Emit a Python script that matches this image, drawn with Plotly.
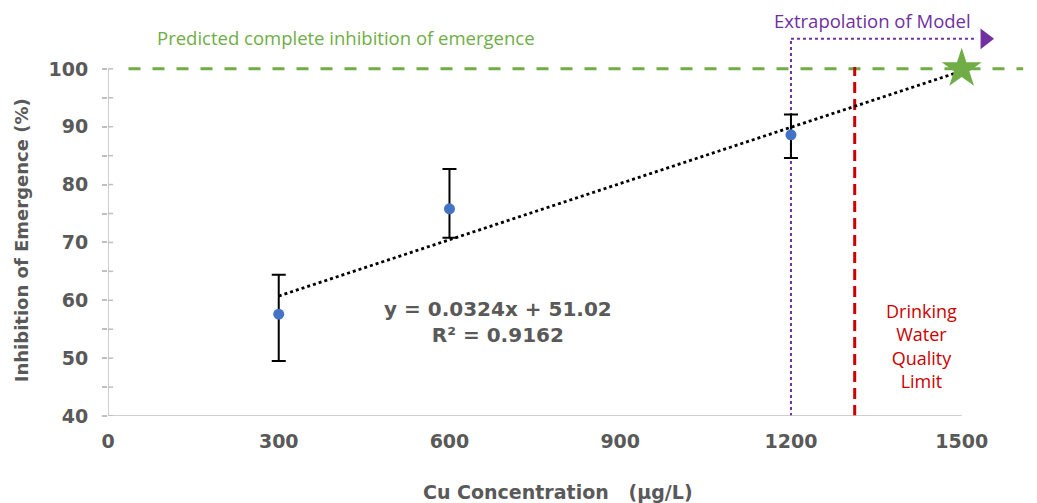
import plotly.graph_objects as go

# ---- data ----
cu_conc = [300, 600, 1200]
inhibition = [57.6, 75.8, 88.6]
err_plus = [6.8, 6.9, 3.5]
err_minus = [8.1, 5.0, 4.0]

slope = 0.0324
intercept = 51.02
trend_x = [300, 1500]
trend_y = [slope * v + intercept for v in trend_x]

complete_inhibition = 100
predicted_x = 1500
dwq_limit = 1312
extrap_start = 1200
extrap_level = 105.2
extrap_end = 1527

x_ticks = [0, 300, 600, 900, 1200, 1500]
y_ticks = [40, 50, 60, 70, 80, 90, 100]
y_minor = [45, 55, 65, 75, 85, 95]

GRAY = "#595959"
AX = "#BFBFBF"
GREEN = "#70AD47"
RED = "#CC0000"
PURPLE = "#7030A0"
BLUE = "#4472C4"

fig = go.Figure()

# trendline
fig.add_trace(go.Scatter(x=trend_x, y=trend_y, mode="lines",
                         line=dict(color="black", width=2.8, dash="dot"),
                         hoverinfo="skip", showlegend=False))
# data points
fig.add_trace(go.Scatter(x=cu_conc, y=inhibition, mode="markers",
                         marker=dict(color=BLUE, size=11),
                         error_y=dict(type="data", array=err_plus, arrayminus=err_minus,
                                      color="black", thickness=2, width=7),
                         showlegend=False))
# predicted complete inhibition star
fig.add_trace(go.Scatter(x=[predicted_x], y=[complete_inhibition], mode="markers",
                         marker=dict(symbol="star", color=GREEN, size=30, line=dict(width=0)),
                         showlegend=False))
# extrapolation arrow head
fig.add_trace(go.Scatter(x=[extrap_end + 14], y=[extrap_level], mode="markers",
                         marker=dict(symbol="triangle-right", color=PURPLE, size=18),
                         showlegend=False))

shapes = [
    # axes
    dict(type="line", xref="x", yref="y", x0=0, x1=1500, y0=40, y1=40,
         line=dict(color=AX, width=1.5)),
    dict(type="line", xref="x", yref="y", x0=0, x1=0, y0=40, y1=100,
         line=dict(color=AX, width=1.5)),
    # green dashed complete inhibition
    dict(type="line", xref="x", yref="y", x0=36, x1=1608, y0=complete_inhibition,
         y1=complete_inhibition, line=dict(color=GREEN, width=3, dash="12px,12px"),
         layer="below"),
    # red drinking water limit
    dict(type="line", xref="x", yref="y", x0=dwq_limit, x1=dwq_limit, y0=40, y1=100.3,
         line=dict(color=RED, width=3, dash="11px,6px"), layer="below"),
    # purple extrapolation
    dict(type="line", xref="x", yref="y", x0=extrap_start, x1=extrap_start, y0=40,
         y1=extrap_level, line=dict(color=PURPLE, width=2, dash="dot"), layer="below"),
    dict(type="line", xref="x", yref="y", x0=extrap_start, x1=extrap_end,
         y0=extrap_level, y1=extrap_level,
         line=dict(color=PURPLE, width=2, dash="dot"), layer="below"),
]
# small inner halves of the y-axis ticks (ticks cross the axis in the reference)
for v in y_ticks + y_minor:
    shapes.append(dict(type="line", xref="x", yref="y", x0=0, x1=9, y0=v, y1=v,
                       line=dict(color=AX, width=1.5)))

annotations = [
    dict(x=685, y=56.3, xref="x", yref="y", showarrow=False,
         text="y = 0.0324x + 51.02<br>R² = 0.9162",
         font=dict(family="DejaVu Sans", size=20, color=GRAY, weight="bold"),
         align="center"),
    dict(x=1430, y=52.1, xref="x", yref="y", showarrow=False,
         text="Drinking<br>Water<br>Quality<br>Limit",
         font=dict(family="Open Sans", size=18, color=RED), align="center"),
    dict(x=418, y=105.4, xref="x", yref="y", showarrow=False,
         text="Predicted complete inhibition of emergence",
         font=dict(family="Open Sans", size=18.5, color=GREEN)),
    dict(x=1343, y=108.4, xref="x", yref="y", showarrow=False,
         text="Extrapolation of Model",
         font=dict(family="Open Sans", size=18.5, color=PURPLE)),
    dict(x=-0.093, y=0.4346, xref="paper", yref="paper", showarrow=False,
         xanchor="center", yanchor="middle",
         text="Inhibition of Emergence (%)", textangle=-90,
         font=dict(family="DejaVu Sans", size=18, color=GRAY, weight="bold")),
    dict(x=0.488, y=-0.188, xref="paper", yref="paper", showarrow=False,
         xanchor="center", yanchor="middle",
         text="Cu Concentration\u00a0\u00a0\u00a0(µg/L)",
         font=dict(family="DejaVu Sans", size=19, color=GRAY, weight="bold")),
]

fig.update_layout(
    width=1037, height=503,
    margin=dict(l=100, r=15, t=3, b=95),
    plot_bgcolor="white", paper_bgcolor="white",
    shapes=shapes, annotations=annotations, showlegend=False,
    xaxis=dict(range=[0, 1620], tickvals=x_ticks, showgrid=False, zeroline=False,
               showline=False, ticks="", ticklabelstandoff=12,
               tickfont=dict(family="DejaVu Sans", size=19, color=GRAY, weight="bold")),
    yaxis=dict(range=[40, 110], tickvals=y_ticks, showgrid=False, zeroline=False,
               showline=False, ticks="outside", ticklen=5, tickcolor=AX, tickwidth=1.5,
               ticklabelstandoff=10,
               minor=dict(tickvals=y_minor, ticks="outside", ticklen=5, tickcolor=AX,
                          tickwidth=1.5),
               tickfont=dict(family="DejaVu Sans", size=19, color=GRAY, weight="bold")),
)

fig.write_html("out.html")
